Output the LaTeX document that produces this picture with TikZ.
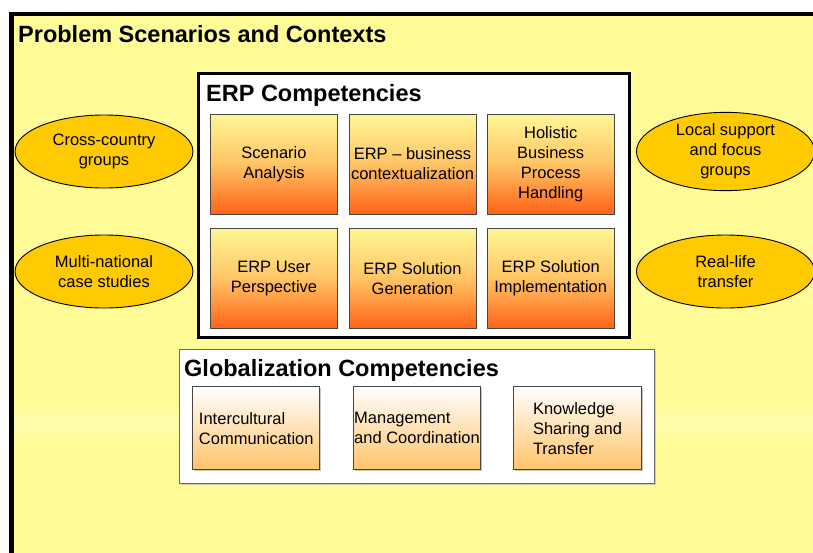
\documentclass[tikz,border=0pt]{standalone}
\usepackage{fontspec}
\setmainfont{Liberation Sans}
\usetikzlibrary{shapes.geometric,shadows}

\definecolor{paper}{RGB}{255,252,152}
\definecolor{gold}{RGB}{255,202,0}
\definecolor{boxtop}{RGB}{255,246,150}
\definecolor{boxmid}{RGB}{255,196,100}
\definecolor{boxbot}{RGB}{255,98,24}
\definecolor{softorange}{RGB}{255,196,105}
\definecolor{rim}{RGB}{70,70,70}

\tikzset{
  heading/.style={font=\bfseries\fontsize{23.5}{26}\selectfont, anchor=base west, inner sep=0pt},
  erpbox/.style={draw=rim, line width=0.9pt, minimum width=127pt, minimum height=100pt,
    inner sep=0pt, align=center, font=\fontsize{16.5}{20}\selectfont,
    top color=boxtop, bottom color=boxbot, middle color=boxmid},
  globbox/.style={draw=rim, line width=0.9pt, minimum width=127pt, minimum height=83pt,
    inner sep=0pt, align=left, font=\fontsize{16.5}{20}\selectfont,
    top color=white, bottom color=softorange,
    drop shadow={shadow xshift=1.5pt, shadow yshift=-1.5pt, fill=black!45}},
  context/.style={ellipse, draw=black, line width=0.9pt, fill=gold,
    minimum width=178pt, minimum height=73pt, inner sep=0pt, align=center,
    font=\fontsize{16.5}{20}\selectfont},
}

\begin{document}
\begin{tikzpicture}[x=1pt, y=-1pt]
  \useasboundingbox (0,0) rectangle (813,552);
  \clip (0,0) rectangle (813,552);
  \fill[white] (0,0) rectangle (813,552);

  % outer frame of scenarios and contexts
  \fill[paper] (11.5,14) rectangle (830,570);
  \shade[top color=paper, bottom color=paper, middle color=paper!60!white, opacity=0.5]
    (14,404) rectangle (813,442);
  \draw[line width=4.5pt] (11.5,570) -- (11.5,14) -- (830,14);
  \node[heading, font=\bfseries\fontsize{23.5}{26}\selectfont] (ptitle) at (18,42.5)
    {Problem Scenarios and Contexts};

  % ERP competencies
  \node[draw=black, line width=3pt, fill=white, minimum width=431pt, minimum height=264pt,
    inner sep=0pt] (erp) at (413.5,205.5) {};
  \node[heading] (erptitle) at (206,101.5) {ERP Competencies};

  \node[erpbox] (sa) at (274,164) {Scenario\\Analysis};
  \node[erpbox] (bc) at (412.5,164) {ERP -- business\\contextualization};
  \node[erpbox] (hb) at (550.7,164) {Holistic\\Business\\Process\\Handling};
  \node[erpbox] (up) at (274,278.5) {ERP User\\Perspective};
  \node[erpbox] (sg) at (412.5,278.5) {ERP Solution\\Generation};
  \node[erpbox] (si) at (550.7,278.5) {ERP Solution\\Implementation};

  % globalization competencies
  \node[draw=black!60, line width=0.9pt, fill=white, minimum width=475pt, minimum height=134pt,
    inner sep=0pt, drop shadow={shadow xshift=1.5pt, shadow yshift=-1.5pt, fill=black!35}]
    (glob) at (416.8,416.3) {};
  \node[heading] (globtitle) at (184,376.5) {Globalization Competencies};

  \node[globbox] (ic) at (256.3,428.3) {Intercultural\\Communication};
  \node[globbox] (mc) at (417,428.3) {Management\\and Coordination};
  \node[globbox, minimum width=128pt] (ks) at (577.5,428.3) {Knowledge\\Sharing and\\Transfer};

  % contexts
  \node[context] (cc) at (104,151.5) {Cross-country\\groups};
  \node[context] (mn) at (104,271.5) {Multi-national\\case studies};
  \node[context] (ls) at (725.5,151.5) {Local support\\and focus\\groups};
  \node[context] (rl) at (725.5,271.5) {Real-life\\transfer};
\end{tikzpicture}
\end{document}
